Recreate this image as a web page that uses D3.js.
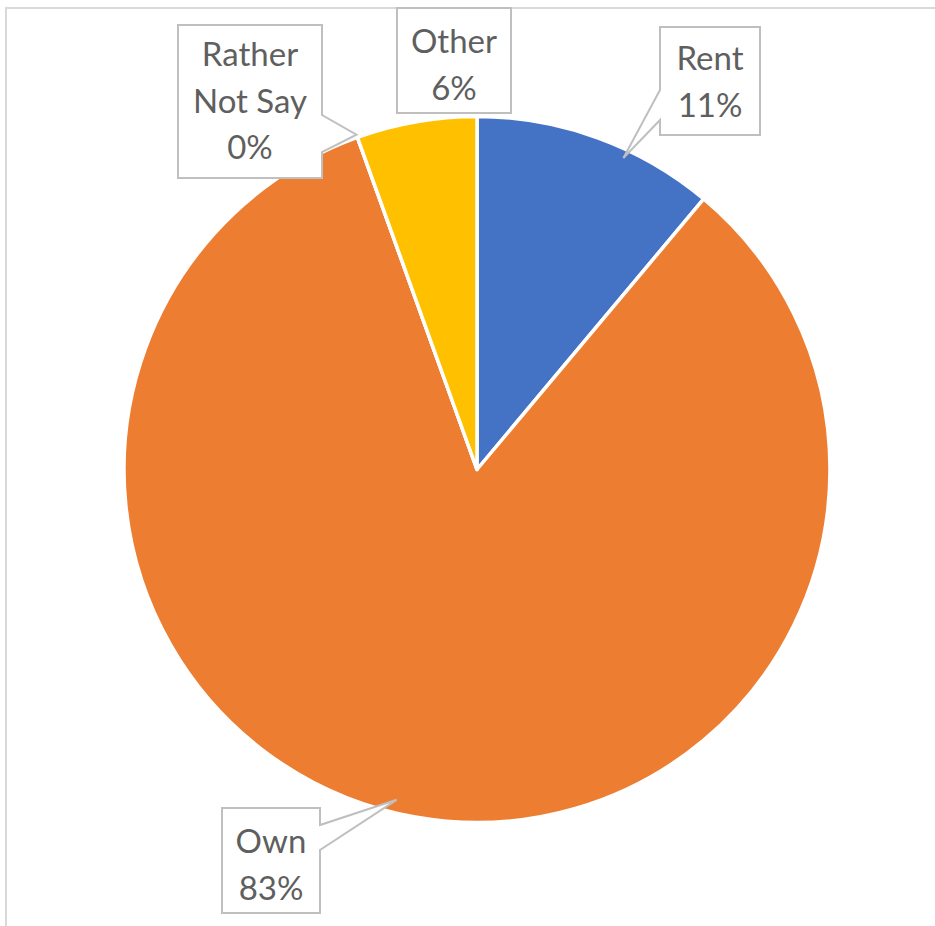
<!DOCTYPE html>
<html>
<head>
<meta charset="utf-8">
<script src="https://cdn.jsdelivr.net/npm/d3@7"></script>
<style>
  html, body { margin: 0; padding: 0; background: #fff; }
  svg { display: block; }
</style>
</head>
<body>
<svg id="chart" width="935" height="926"></svg>
<script>
// ---- data ----
const categories = ["Rent", "Own", "Rather Not Say", "Other"];
const values = [11.1, 83.4, 0.0, 5.5];
const labelLines = [["Rent"], ["Own"], ["Rather", "Not Say"], ["Other"]];
const colors = ["#4472C4", "#ED7D31", "#A5A5A5", "#FFC000"];

// ---- layout (positions of callout boxes) ----
const W = 935, H = 926;
const cx = 477, cy = 469.5, R = 353;
const callouts = [
  { x0: 660, y0: 27, x1: 760, y1: 135, side: "left",  yA: 90,  yB: 120, frac: 0.63, rf: 0.975, tx: 710, ty: 70 },
  { x0: 222, y0: 808, x1: 320, y1: 913, side: "right", yA: 825, yB: 850, frac: 0.512, rf: 0.963, tx: 271, ty: 853 },
  { x0: 178, y0: 25, x1: 322, y1: 178, side: "right", yA: 115, yB: 152, frac: 0.5, rf: 1.008, tx: 250, ty: 66 },
  { x0: 397, y0: 8, x1: 511, y1: 113, side: null, tx: 454, ty: 53 }
];
const lineH = 46.5;

const svg = d3.select("#chart");

// chart border (partially visible)
svg.append("rect")
  .attr("x", 6).attr("y", 8)
  .attr("width", W + 20).attr("height", H + 20)
  .attr("fill", "none").attr("stroke", "#D9D9D9").attr("stroke-width", 2);

const total = d3.sum(values);
const pie = d3.pie().sort(null).value(d => d)(values);
const arc = d3.arc().innerRadius(0).outerRadius(R);

const g = svg.append("g").attr("transform", `translate(${cx},${cy})`);
g.selectAll("path.slice")
  .data(pie)
  .join("path")
  .attr("class", "slice")
  .attr("d", arc)
  .attr("fill", (d, i) => colors[i])
  .attr("stroke", "#fff")
  .attr("stroke-width", 3.5)
  .attr("stroke-linejoin", "round");

// callouts
const pctFmt = v => Math.round(v / total * 100) + "%";

callouts.forEach((c, i) => {
  const d = pie[i];
  let tip = null;
  if (c.side) {
    const a = d.startAngle + c.frac * (d.endAngle - d.startAngle);
    const r = R * c.rf;
    tip = [cx + r * Math.sin(a), cy - r * Math.cos(a)];
  }
  const pts = [[c.x0, c.y0], [c.x1, c.y0]];
  if (c.side === "right") pts.push([c.x1, c.yA], tip, [c.x1, c.yB]);
  pts.push([c.x1, c.y1], [c.x0, c.y1]);
  if (c.side === "left") pts.push([c.x0, c.yB], tip, [c.x0, c.yA]);

  svg.append("path")
    .attr("d", d3.line()(pts) + "Z")
    .attr("fill", "#fff")
    .attr("stroke", "#BFBFBF")
    .attr("stroke-width", 2)
    .attr("stroke-linejoin", "miter");

  const lines = labelLines[i].concat([pctFmt(values[i])]);
  const t = svg.append("text")
    .attr("font-family", "Lato, 'Open Sans', sans-serif")
    .attr("font-size", 33)
    .attr("fill", "#5f5f5f")
    .attr("text-anchor", "middle");
  lines.forEach((ln, k) => {
    t.append("tspan").attr("x", c.tx).attr("y", c.ty + k * lineH).text(ln);
  });
});
</script>
</body>
</html>
